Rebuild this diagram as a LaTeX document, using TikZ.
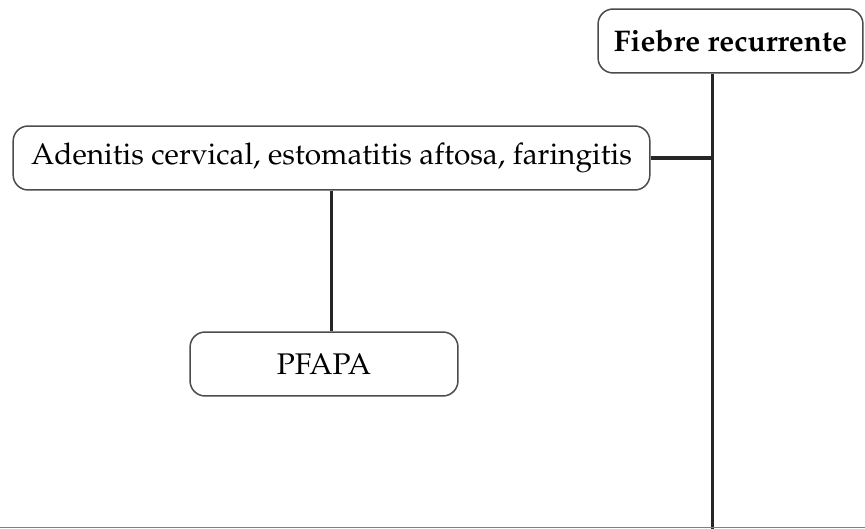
\documentclass[tikz,border=0pt]{standalone}
\usepackage[T1]{fontenc}
\usepackage{mathpazo}
\usepackage{tikz}
\usetikzlibrary{positioning}
\definecolor{bordegris}{rgb}{0.30, 0.30, 0.30}
\tikzset{
  caja/.style={
    rounded corners=6pt,
    draw=bordegris,
    line width=0.6pt,
    fill=white,
    align=center,
    minimum height=0.896cm,
    inner sep=3pt,
    font=\fontsize{11.9}{14}\selectfont
  },
  linea/.style={
    line width=1.2pt,
    black!85
  }
}
\begin{document}
\begin{tikzpicture}[x=0.014cm,y=-0.014cm]
\useasboundingbox (0,0) rectangle (865,529);
\node[caja, minimum width=3.71cm, font=\fontsize{11.9}{14}\selectfont\bfseries] (fiebre) at (730.5,41) {Fiebre recurrente};
\node[caja, minimum width=8.918cm] (adenitis) at (331.5,158) {Adenitis cervical, estomatitis aftosa, faringitis};
\node[caja, minimum width=3.752cm] (pfapa) at (324,364) {PFAPA};
\coordinate (tronco) at (712,529);
\draw[linea] (tronco |- fiebre.south) -- (tronco);
\draw[linea] (adenitis.east) -- (adenitis.east -| tronco);
\draw[linea] (adenitis.south) -- (adenitis.south |- pfapa.north);
% borde inferior
\draw[black!50, line width=0.5pt] (0,527.5) -- (865,527.5);
\end{tikzpicture}
\end{document}
